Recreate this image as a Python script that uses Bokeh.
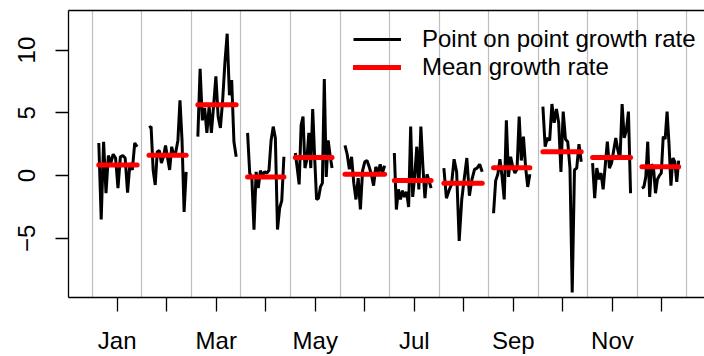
import numpy as np
from bokeh.plotting import figure
from bokeh.models import FixedTicker, LinearAxis, Legend, LegendItem, Range1d
from bokeh.embed import file_html
from bokeh.resources import INLINE

months = ["Jan", "Feb", "Mar", "Apr", "May", "Jun",
          "Jul", "Aug", "Sep", "Oct", "Nov", "Dec"]
days_in_month = [31, 28, 31, 30, 31, 30, 31, 31, 30, 31, 30, 31]
first_day = [4, 4, 4, 4, 3, 3, 3, 3, 3, 3, 3, 3]
last_day = [28, 25, 28, 26, 26, 27, 26, 27, 25, 27, 26, 26]

jan = [2.6, -3.5, 2.7, -1.4, 1.6, 1.0, 1.7, 1.4, -1.0, 1.5, 1.6, 1.4, -1.35, 1.0, 0.45, 2.6, 2.3]
feb = [3.8, 3.9, 0.45, -0.75, 1.9, 2.0, 1.0, 1.5, 2.4, 1.4, 0.45, 2.3, 1.6, 1.9, 2.8, 6.0, 2.8, -2.9, 0.3]
mar = [3.1, 8.5, 4.4, 5.4, 3.4, 5.5, 3.4, 5.6, 7.9, 4.7, 3.8, 6.0, 9.0, 11.3, 6.4, 7.6, 2.7, 1.5]
apr = [3.4, 0.2, -0.2, -4.3, 0.3, -1.0, 0.4, 0.0, 0.3, 0.2, 0.4, 2.8, 3.9, 3.0, -4.3, -2.6, -2.0, 1.5]
may = [1.8, 0.6, -0.7, 4.0, 4.7, 0.6, 1.3, 3.4, 0.6, 5.3, 1.5, -1.9, -1.8, -0.9, -0.6, 7.7, -0.1, 2.8, 1.6, 0.6]
jun = [2.4, 1.7, 0.5, 1.5, -0.6, -1.9, -0.2, -2.7, 0.4, 1.1, 1.2, 0.7, 0.1, -0.8, 0.7, 0.2, 0.9, 0.2, 0.8]
jul = [1.8, -2.7, -1.1, -1.9, -1.2, -1.7, -1.3, -2.5, 3.9, -1.7, 0.0, 2.3, -1.1, 3.9, 0.7, -1.8, 0.1, -0.4, -1.0]
aug = [0.6, -1.8, -1.2, -0.7, 1.3, 0.3, -5.2, -1.9, -0.2, 1.4, -1.6, -0.3, 0.5, 0.6, 0.9, 0.3]
sep = [-3.0, -0.4, 0.1, 1.3, -0.1, -1.9, 4.4, -0.1, 1.5, 0.7, 0.2, 0.5, 4.7, 1.2, 3.1, 0.7, -0.9, 0.1]
oct_ = [5.5, 2.3, 3.0, 2.8, 5.7, 4.2, 5.3, 4.2, 0.3, 5.1, 2.9, 2.7, 0.6, -9.3, 0.45, 0.6, 2.5, 1.1]
nov = [1.0, -1.8, 0.6, -0.3, 0.2, -1.1, 0.8, 2.7, 0.6, 1.0, 2.0, 3.0, 2.0, 1.3, 5.7, 3.0, 3.6, 5.1, -1.4]
dec = [-1.0, -0.9, -0.1, 2.7, -1.7, 0.9, 0.6, -1.4, -0.3, 0.0, 0.2, 3.1, 2.9, 5.1, 2.5, -0.8, 1.4, 1.1, -0.5, 1.2]
growth = [jan, feb, mar, apr, may, jun, jul, aug, sep, oct_, nov, dec]

mean_rate = [0.85, 1.62, 5.65, -0.12, 1.45, 0.1, -0.4, -0.6, 0.62, 1.9, 1.45, 0.7]

y_ticks = [-5, 0, 5, 10]

xs, ys, seg_x0, seg_x1 = [], [], [], []
for m in range(12):
    n = len(growth[m])
    days = np.linspace(first_day[m], last_day[m], n)
    x = (m + 1) - 0.5 + days / days_in_month[m]
    xs.append(list(x))
    ys.append(growth[m])
    seg_x0.append(x[0])
    seg_x1.append(x[-1])

FONT = "Liberation Sans"

p = figure(width=704, height=356, output_backend="svg", toolbar_location=None,
           x_range=Range1d(0.017, 12.86), y_range=Range1d(-9.71, 13.15),
           min_border_left=68, min_border_right=0, min_border_top=10, min_border_bottom=58)
p.outline_line_color = None
p.background_fill_color = "white"

# grid at month boundaries
p.xgrid.ticker = FixedTicker(ticks=[m + 0.5 for m in range(13)])
p.xgrid.grid_line_color = "#BEBEBE"
p.xgrid.grid_line_width = 1.2
p.ygrid.grid_line_color = None

line_r = p.multi_line(xs=xs, ys=ys, line_color="black", line_width=3)
seg_r = p.segment(x0=seg_x0, y0=mean_rate, x1=seg_x1, y1=mean_rate,
                  line_color="#FF0000", line_width=5, line_cap="round")

# x axis
xa = p.xaxis[0]
xa.ticker = FixedTicker(ticks=list(range(1, 13)))
xa.major_label_overrides = {i + 1: (months[i] if i % 2 == 0 else "") for i in range(12)}
xa.major_tick_out = 14
xa.major_tick_in = 0
xa.minor_tick_line_color = None
xa.major_label_standoff = 15
xa.major_label_text_font = FONT
xa.major_label_text_font_size = "24px"
xa.major_label_text_color = "black"
xa.axis_line_width = 1.5
xa.major_tick_line_width = 1.3

# y axis
ya = p.yaxis[0]
ya.ticker = FixedTicker(ticks=y_ticks)
ya.major_label_overrides = {t: (str(t).replace("-", "\u2212")) for t in y_ticks}
ya.major_label_orientation = "vertical"
ya.major_tick_out = 13
ya.major_tick_in = 0
ya.minor_tick_line_color = None
ya.major_label_standoff = 20
ya.major_label_text_font = FONT
ya.major_label_text_font_size = "24px"
ya.major_label_text_color = "black"
ya.axis_line_width = 1.3
ya.major_tick_line_width = 1.3

# top border
top = LinearAxis(ticker=FixedTicker(ticks=[]), major_tick_out=0, major_tick_in=0,
                 minor_tick_out=0, minor_tick_in=0, major_label_standoff=0,
                 major_label_text_font_size="0px", axis_line_width=1.3)
p.add_layout(top, "above")

legend = Legend(items=[LegendItem(label="Point on point growth rate", renderers=[line_r]),
                       LegendItem(label="Mean growth rate", renderers=[seg_r])],
                location=(285, 216), padding=0, margin=0, spacing=-2,
                glyph_width=48, glyph_height=28, label_height=28, label_standoff=21,
                label_text_font=FONT, label_text_font_size="24px",
                label_text_color="black",
                border_line_color=None, background_fill_alpha=0)
p.add_layout(legend)

open("out.html", "w").write(file_html(p, INLINE))
